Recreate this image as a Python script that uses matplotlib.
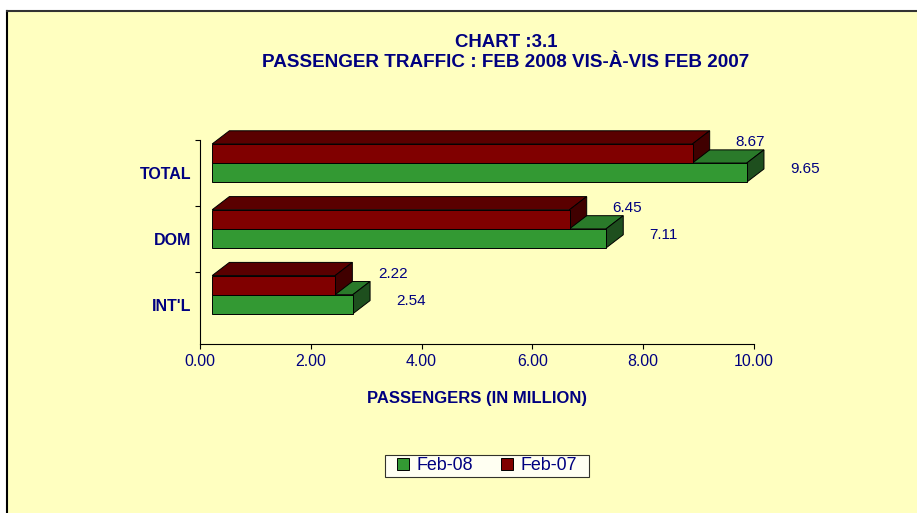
import matplotlib
matplotlib.use("Agg")
import matplotlib.pyplot as plt
from matplotlib.patches import Polygon, Rectangle, Patch
from matplotlib.lines import Line2D
from matplotlib.path import Path

plt.rcParams['font.family'] = ['Liberation Sans', 'DejaVu Sans']

# data (passengers in million)
categories = ["INT'L", "DOM", "TOTAL"]
feb08 = [2.54, 7.11, 9.65]
feb07 = [2.22, 6.45, 8.67]
series_names = ["Feb-08", "Feb-07"]
x_ticks = [0, 2, 4, 6, 8, 10]

# colours
NAVY = "#000080"
YELLOW = "#FFFFC0"
GREEN = ("#339933", "#2A7A2A", "#1E4F1E")   # front, top, side
RED = ("#800000", "#5A0000", "#400000")

# 3d look (data units)
X0 = 0.22      # front face starts a little right of the axis
DX = 0.31      # depth in x
DY = 0.20      # depth in y
G_LO, G_HI = -0.14, 0.15   # green bar, relative to category centre
R_LO, R_HI = 0.15, 0.44    # red bar


def box3d(ax, y0, y1, value, colors, parts=("top", "side", "front")):
    x1 = X0 + value
    faces = {
        "front": [(X0, y0), (x1, y0), (x1, y1), (X0, y1)],
        "top": [(X0, y1), (x1, y1), (x1 + DX, y1 + DY), (X0 + DX, y1 + DY)],
        "side": [(x1, y0), (x1 + DX, y0 + DY), (x1 + DX, y1 + DY), (x1, y1)],
    }
    col = {"front": colors[0], "top": colors[1], "side": colors[2]}
    for p in parts:
        ax.add_patch(Polygon(faces[p], closed=True, facecolor=col[p],
                             edgecolor="black", linewidth=0.7, clip_on=False))


def wide_box(x0, y0, width, height, mutation_size):
    # legend frame with extra room left and right only
    px = 0.55 * mutation_size
    verts = [(x0 - px, y0), (x0 + width + px, y0), (x0 + width + px, y0 + height),
             (x0 - px, y0 + height), (x0 - px, y0)]
    return Path(verts, closed=True)


fig = plt.figure(figsize=(9.17, 5.13), dpi=100, facecolor="white")

# yellow chart area with its border
fig.patches.append(Rectangle((7 / 917, 0), 1, 1 - 11 / 513, transform=fig.transFigure,
                             facecolor=YELLOW, edgecolor="none", zorder=-5))
fig.lines.append(Line2D([7 / 917, 7 / 917], [0, 1 - 11 / 513], transform=fig.transFigure,
                        color="black", linewidth=1.5, zorder=-4))
fig.lines.append(Line2D([7 / 917, 1], [1 - 11 / 513, 1 - 11 / 513], transform=fig.transFigure,
                        color="#333333", linewidth=1.5, zorder=-4))

ax = fig.add_axes([200 / 917, 1 - 344 / 513, 554 / 917, 204 / 513])
ax.set_facecolor("none")
ax.set_xlim(0, 10)
ax.set_ylim(-0.6, 2.5)

for i in range(len(categories)):
    # green top & side first, then red bar, then green front
    box3d(ax, i + G_LO, i + G_HI, feb08[i], GREEN, parts=("top", "side"))
    box3d(ax, i + R_LO, i + R_HI, feb07[i], RED)
    box3d(ax, i + G_LO, i + G_HI, feb08[i], GREEN, parts=("front",))

    ax.annotate(f"{feb08[i]:.2f}", xy=(X0 + feb08[i], i + 0.06), xytext=(31, 0),
                textcoords="offset points", ha="left", va="center",
                fontsize=11, color=NAVY, annotation_clip=False)
    ax.annotate(f"{feb07[i]:.2f}", xy=(X0 + feb07[i], i + 0.47), xytext=(31, 0),
                textcoords="offset points", ha="left", va="center",
                fontsize=11, color=NAVY, annotation_clip=False)

# axes styling
for s in ("top", "right"):
    ax.spines[s].set_visible(False)
ax.spines["left"].set_bounds(-0.6, 2.5)
ax.set_xticks(x_ticks)
ax.set_xticklabels([f"{v:.2f}" for v in x_ticks], fontsize=11.4, color=NAVY)
ax.tick_params(axis="x", direction="out", length=3.6, width=0.8, pad=3.5)

ax.set_yticks(range(len(categories)))
ax.set_yticklabels(categories, fontsize=11.5, fontweight="bold", color=NAVY)
ax.set_yticks([0.5, 1.5, 2.5], minor=True)
ax.tick_params(axis="y", which="major", length=0, pad=6)
ax.tick_params(axis="y", which="minor", direction="out", length=3.6, width=0.8)

# titles
fig.text(506 / 917, 1 - 43 / 513, "CHART :3.1", ha="center", va="center",
         fontsize=13.4, fontweight="bold", color=NAVY)
fig.text(506 / 917, 1 - 63 / 513, "PASSENGER TRAFFIC : FEB 2008 VIS-\u00c0-VIS FEB 2007",
         ha="center", va="center", fontsize=13.6, fontweight="bold", color=NAVY)
fig.text(477 / 917, 1 - 399 / 513, "PASSENGERS (IN MILLION)", ha="center", va="center",
         fontsize=12, fontweight="bold", color=NAVY)

# legend
handles = [Patch(facecolor=GREEN[0], edgecolor="black", linewidth=0.7),
           Patch(facecolor=RED[0], edgecolor="black", linewidth=0.7)]
leg = fig.legend(handles, series_names, loc="center", bbox_to_anchor=(487 / 917, 1 - 466 / 513),
                 ncol=2, fontsize=12.9, frameon=True, fancybox=False, handlelength=0.65,
                 handleheight=0.65, handletextpad=0.4, columnspacing=1.6, borderpad=0.15)
leg.get_frame().set_boxstyle(wide_box)
leg.get_frame().set_edgecolor("black")
leg.get_frame().set_facecolor("white")
leg.get_frame().set_linewidth(0.8)
for t in leg.get_texts():
    t.set_color(NAVY)

fig.savefig("out.png", dpi=100, facecolor="white")
